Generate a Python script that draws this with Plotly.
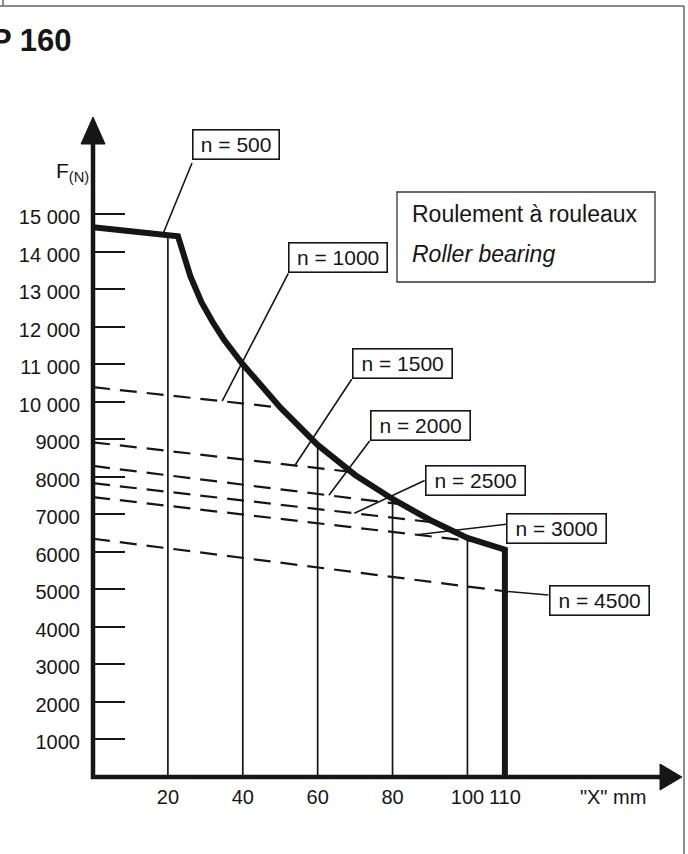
import numpy as np
import plotly.graph_objects as go

# ---------------- data ----------------
# Envelope curve for n = 500 (thick line), x in mm, F in N
curve_x = [0, 22.7, 26, 29, 32, 35, 40, 45, 50, 60, 70, 80, 90, 100, 110]
curve_y = [14650, 14410, 13350, 12650, 12120, 11650, 11000, 10400, 9850, 8850, 8050, 7410, 6850, 6370, 6060]
curve_end_x = 110

# Dashed limit lines for other speeds
n1000_x = [0, 49.7]
n1000_y = [10390, 9850]
n1500_x = [0, 69]
n1500_y = [8920, 8130]
n2000_x = [0, 82]
n2000_y = [8290, 7270]
n2500_x = [0, 91.5]
n2500_y = [7830, 6780]
n3000_x = [0, 102.5]
n3000_y = [7460, 6270]
n4500_x = [0, 110]
n4500_y = [6350, 4950]

speed_labels = ["n = 500", "n = 1000", "n = 1500", "n = 2000", "n = 2500", "n = 3000", "n = 4500"]
# x (mm) on each series where the label leader touches it
leader_target_x = [18.6, 34.5, 53.9, 63, 69.8, 86.5, 110]

grid_x = [20, 40, 60, 80, 100]

x_tick_vals = [20, 40, 60, 80, 100, 110, 138.9]
x_tick_text = ["20", "40", "60", "80", "100", "110", '"X" mm']
y_tick_vals = [1000, 2000, 3000, 4000, 5000, 6000, 7000, 8000, 9000,
               10000, 11000, 12000, 13000, 14000, 15000]
y_tick_text = ["1000", "2000", "3000", "4000", "5000", "6000", "7000", "8000", "9000",
               "10 000", "11 000", "12 000", "13 000", "14 000", "15 000"]

# ---------------- layout constants ----------------
W, H = 688, 854
ML, MR, MT, MB = 93, 6, 117, 77
XMAX = 157.3
YMAX = 17590
INK = "#161616"
FONT = "Liberation Sans, Arial, Helvetica, sans-serif"
PW, PH = W - ML - MR, H - MT - MB


def px(xp):  # pixel -> paper x (decoration only)
    return (xp - ML) / PW


def py(yp):  # pixel -> paper y (decoration only)
    return (H - MB - yp) / PH


# label boxes: centre (data coords), inner width, leader start (data coords)
label_centre = [(38.15, 16867), (65.51, 13833), (82.66, 11018), (87.38, 9374),
                (102.07, 7904), (123.77, 6636), (135.2, 4691)]
label_width = [85, 97, 98, 98, 98, 98, 98]
leader_start = [(26.44, 16365), (52.16, 13425), (69.09, 10600), (73.87, 8955),
                (88.56, 7902), (110.35, 6735), (121.62, 4851)]

series = [
    (curve_x, curve_y),
    (n1000_x, n1000_y),
    (n1500_x, n1500_y),
    (n2000_x, n2000_y),
    (n2500_x, n2500_y),
    (n3000_x, n3000_y),
    (n4500_x, n4500_y),
]

fig = go.Figure()

# thin vertical grid lines up to the envelope
vx, vy = [], []
for gx in grid_x:
    top = float(np.interp(gx, curve_x, curve_y))
    vx += [gx, gx, None]
    vy += [0, top, None]
fig.add_trace(go.Scatter(x=vx, y=vy, mode="lines", line=dict(color=INK, width=1.7),
                         hoverinfo="skip", showlegend=False))

# dashed speed lines
for sx, sy in series[1:]:
    fig.add_trace(go.Scatter(x=sx, y=sy, mode="lines",
                             line=dict(color=INK, width=2.2, dash="17px,10px"),
                             hoverinfo="skip", showlegend=False))

# thick envelope curve + vertical end at 110 mm
fig.add_trace(go.Scatter(x=curve_x + [curve_end_x], y=curve_y + [0], mode="lines",
                         line=dict(color=INK, width=6), hoverinfo="skip", showlegend=False))

# leader lines
lx, ly = [], []
for (sx, sy), tx, (ax, ay) in zip(series, leader_target_x, leader_start):
    ty = float(np.interp(tx, sx, sy))
    lx += [tx, ax, None]
    ly += [ty, ay, None]
fig.add_trace(go.Scatter(x=lx, y=ly, mode="lines", line=dict(color=INK, width=1.6),
                         hoverinfo="skip", showlegend=False))

annotations = []
for text, (cx, cy), w in zip(speed_labels, label_centre, label_width):
    annotations.append(dict(x=cx, y=cy, xref="x", yref="y", text=text, showarrow=False,
                            xanchor="center", yanchor="middle", width=w, height=28,
                            borderpad=0, borderwidth=1.6, bordercolor=INK, bgcolor="white",
                            font=dict(family=FONT, size=21, color=INK)))

# legend-like box text
annotations.append(dict(x=px(410), y=py(214), xref="paper", yref="paper",
                        text="Roulement à rouleaux", showarrow=False,
                        xanchor="left", yanchor="middle",
                        font=dict(family=FONT, size=23, color=INK)))
annotations.append(dict(x=px(410), y=py(254), xref="paper", yref="paper",
                        text="<i>Roller bearing</i>", showarrow=False,
                        xanchor="left", yanchor="middle",
                        font=dict(family=FONT, size=23, color=INK)))
# axis title F(N)
annotations.append(dict(x=px(54), y=py(172), xref="paper", yref="paper",
                        text="F<sub>(N)</sub>", showarrow=False,
                        xanchor="left", yanchor="middle",
                        font=dict(family=FONT, size=21, color=INK)))
# page title
annotations.append(dict(x=px(-11), y=py(41), xref="paper", yref="paper",
                        text="<b>P 160</b>", showarrow=False,
                        xanchor="left", yanchor="middle",
                        font=dict(family=FONT, size=31, color=INK)))

shapes = [
    # axes (L-shaped)
    dict(type="path", xref="paper", yref="paper",
         path=f"M 0 {py(140)} L 0 0 L {px(662)} 0",
         line=dict(color=INK, width=4.5)),
    # y arrow head
    dict(type="path", xref="paper", yref="paper",
         path=f"M 0 1 L {px(81)} {py(144)} L {px(105)} {py(144)} Z",
         fillcolor=INK, line=dict(color=INK, width=1)),
    # x arrow head
    dict(type="path", xref="paper", yref="paper",
         path=f"M 1 0 L {px(660)} {py(764)} L {px(660)} {py(790)} Z",
         fillcolor=INK, line=dict(color=INK, width=1)),
    # legend box
    dict(type="rect", xref="paper", yref="paper",
         x0=px(397), x1=px(655), y0=py(192), y1=py(282),
         line=dict(color="#333333", width=1.3), fillcolor="rgba(0,0,0,0)"),
    # page frame
    dict(type="line", xref="paper", yref="paper", x0=px(0), x1=px(684), y0=py(6), y1=py(6),
         line=dict(color="#666666", width=1.5)),
    dict(type="line", xref="paper", yref="paper", x0=px(684), x1=px(684), y0=py(6), y1=py(854),
         line=dict(color="#666666", width=1.5)),
    dict(type="line", xref="paper", yref="paper", x0=px(3), x1=px(3), y0=py(0), y1=py(6),
         line=dict(color="#666666", width=1.5)),
]

fig.update_layout(
    width=W, height=H,
    margin=dict(l=ML, r=MR, t=MT, b=MB, pad=0),
    paper_bgcolor="white", plot_bgcolor="white",
    template="none",
    showlegend=False,
    annotations=annotations,
    shapes=shapes,
    xaxis=dict(range=[0, XMAX], showgrid=False, zeroline=False, showline=False,
               tickvals=x_tick_vals, ticktext=x_tick_text, ticks="",
               tickfont=dict(family=FONT, size=20, color=INK),
               ticklabelstandoff=6, automargin=False, fixedrange=True),
    yaxis=dict(range=[0, YMAX], showgrid=False, zeroline=False, showline=False,
               tickvals=y_tick_vals, ticktext=y_tick_text, ticks="inside",
               ticklen=32, tickwidth=1.8, tickcolor=INK,
               tickfont=dict(family=FONT, size=20, color=INK),
               ticklabelstandoff=12, ticklabelshift=3,
               automargin=False, fixedrange=True),
)

fig.write_html("out.html", config={"displayModeBar": False},
               post_script="document.body.style.margin='0';")
